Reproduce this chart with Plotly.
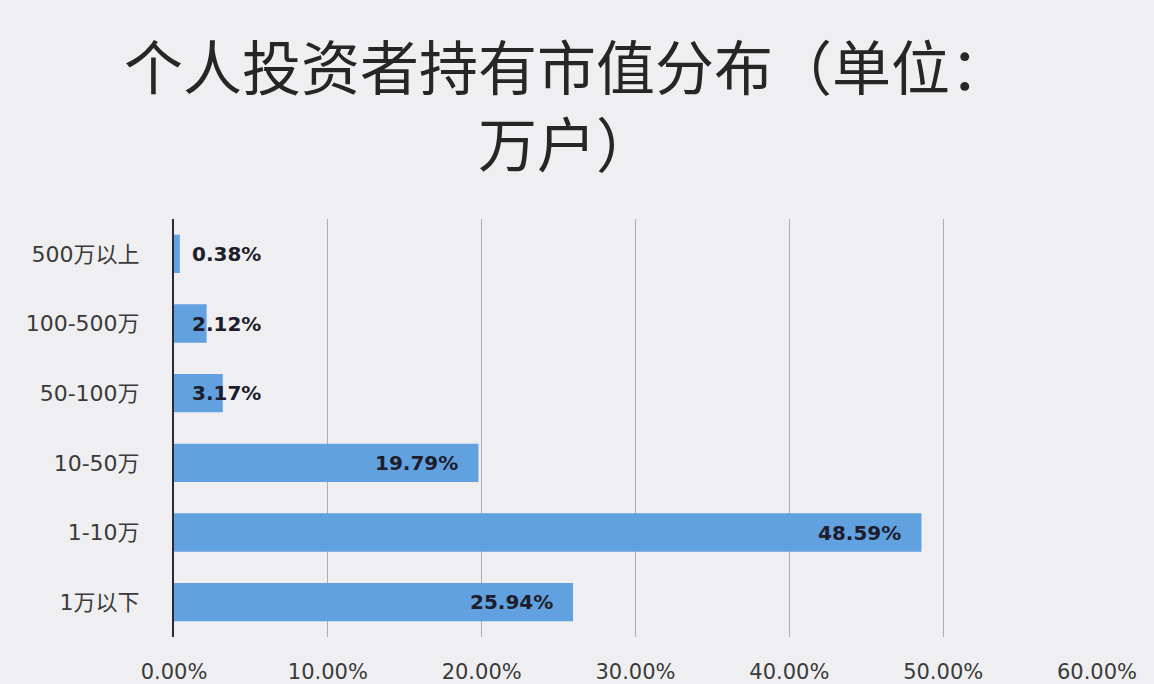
import plotly.graph_objects as go

# 个人投资者持有市值分布
categories = ["500万以上", "100-500万", "50-100万", "10-50万", "1-10万", "1万以下"]
shares = [0.38, 2.12, 3.17, 19.79, 48.59, 25.94]
tick_vals = [0, 10, 20, 30, 40, 50, 60]
tick_text = ["0.00%", "10.00%", "20.00%", "30.00%", "40.00%", "50.00%", "60.00%"]

CJK = "Noto Sans CJK SC"
LATIN = "DejaVu Sans, " + CJK

fig = go.Figure()

fig.add_trace(
    go.Bar(
        x=shares,
        y=categories,
        orientation="h",
        marker=dict(color="#62a1df", line=dict(width=0)),
        width=0.55,
        hoverinfo="x+y",
        showlegend=False,
    )
)

# data labels: inside the bar end, small bars get theirs just right of the axis
annotations = []
for cat, val in zip(categories, shares):
    small = val < 5
    annotations.append(dict(
        x=0 if small else val,
        y=cat,
        xref="x", yref="y",
        text=f"<b>{val:.2f}%</b>",
        showarrow=False,
        xanchor="left" if small else "right",
        xshift=16 if small else -18,
        font=dict(family=LATIN, size=20, color="#1d1d2c"),
    ))

fig.update_layout(
    width=1154,
    height=684,
    paper_bgcolor="#efeff1",
    plot_bgcolor="rgba(0,0,0,0)",
    margin=dict(l=174, r=57, t=219, b=47),
    title=dict(
        text="个人投资者持有市值分布（单位：<br>万户）",
        x=0.491, xanchor="center",
        y=0.868, yanchor="top",
        font=dict(family=CJK, size=59, color="#262626"),
    ),
    xaxis=dict(
        range=[0, 60],
        tickvals=tick_vals,
        ticktext=tick_text,
        showgrid=True,
        gridcolor="#adadb1",
        gridwidth=1,
        zeroline=False,
        showline=False,
        ticks="",
        ticklabelstandoff=20,
        tickfont=dict(family=LATIN, size=21, color="#3a3a3a"),
        automargin=False,
        fixedrange=True,
    ),
    yaxis=dict(
        autorange="reversed",
        showgrid=False,
        showline=True,
        linecolor="#2a2a38",
        linewidth=2,
        ticks="",
        ticklabelstandoff=28,
        tickfont=dict(family=LATIN, size=22, color="#3a3a3a"),
        automargin=False,
        fixedrange=True,
    ),
    bargap=0.45,
    annotations=annotations,
)

fig.write_html(
    "out.html",
    config={"displayModeBar": False},
    post_script="document.body.style.margin='0';document.body.style.background='#efeff1';",
)
